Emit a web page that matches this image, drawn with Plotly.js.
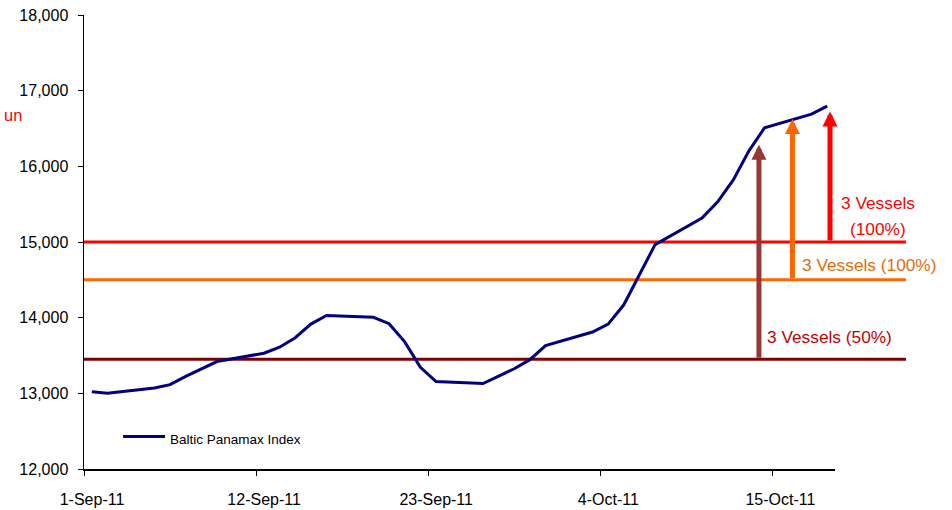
<!DOCTYPE html>
<html>
<head>
<meta charset="utf-8">
<script src="https://cdn.plot.ly/plotly-3.0.1.min.js"></script>
<style>
  html, body { margin: 0; padding: 0; background: #fff; }
  #chart { width: 952px; height: 510px; }
</style>
</head>
<body>
<div id="chart"></div>
<script>
// Baltic Panamax Index, business days 1 Sep – 18 Oct 2011
const dates = [
  '2011-09-01','2011-09-02','2011-09-05','2011-09-06','2011-09-07','2011-09-08','2011-09-09',
  '2011-09-12','2011-09-13','2011-09-14','2011-09-15','2011-09-16',
  '2011-09-19','2011-09-20','2011-09-21','2011-09-22','2011-09-23',
  '2011-09-26','2011-09-27','2011-09-28','2011-09-29','2011-09-30',
  '2011-10-03','2011-10-04','2011-10-05','2011-10-06','2011-10-07',
  '2011-10-10','2011-10-11','2011-10-12','2011-10-13','2011-10-14',
  '2011-10-17','2011-10-18'
];
const panamax = [
  13020, 13000, 13070, 13115, 13225, 13325, 13420,
  13530, 13610, 13735, 13915, 14030,
  14005, 13920, 13680, 13345, 13155,
  13130, 13225, 13325, 13445, 13630,
  13810, 13915, 14170, 14560, 14965,
  15315, 15530, 15820, 16205, 16510,
  16690, 16795
];

// Axis ticks
const tickDates = ['2011-09-01','2011-09-12','2011-09-23','2011-10-04','2011-10-15'];
const tickLabels = ['1-Sep-11','12-Sep-11','23-Sep-11','4-Oct-11','15-Oct-11'];

// Fleet thresholds and the arrows that rise from them
const levelValues = [13450, 14500, 15000];
const levelColors = ['#800000', '#FF6600', '#FF0000'];
const arrowTimes = ['2011-10-14 03:20', '2011-10-16 06:45', '2011-10-18 16:20'];
const arrowTips = [16285, 16625, 16725];
const arrowColors = ['#953735', '#FF6600', '#FF0000'];
// label lines: text, colour
const labelTexts = ['3 Vessels (50%)', '3 Vessels (100%)', '3 Vessels', '(100%)'];
const labelColors = ['#C00000', '#E46C0A', '#FF0000', '#FF0000'];

// each daily value sits in the middle of its day
const xMid = dates.map(d => d + ' 12:00');

const sans = '"Liberation Sans", Arial, sans-serif';

const shapes = levelValues.map((v, i) => ({
  type: 'line', xref: 'paper', yref: 'y',
  x0: 0, x1: 1.0945, y0: v, y1: v,
  line: { color: levelColors[i], width: 3 },
  layer: 'below'
}));
// legend key
shapes.push({
  type: 'line', xref: 'paper', yref: 'paper',
  x0: 0.052, x1: 0.108, y0: 0.0718, y1: 0.0718,
  line: { color: '#000080', width: 3 }
});

const annotations = [];
arrowTimes.forEach((t, i) => {
  annotations.push({
    x: t, y: arrowTips[i], xref: 'x', yref: 'y',
    ax: t, ay: levelValues[i], axref: 'x', ayref: 'y',
    text: '', showarrow: true,
    arrowhead: 2, arrowsize: 0.6, arrowwidth: 5,
    arrowcolor: arrowColors[i], standoff: 0, startstandoff: 0
  });
});
const labelPos = [
  { x: 0.9927, y: 0.2906 },
  { x: 1.0459, y: 0.4497 },
  { x: 1.0573, y: 0.5868 },
  { x: 1.0566, y: 0.5283 }
];
labelTexts.forEach((txt, i) => {
  annotations.push({
    x: labelPos[i].x, y: labelPos[i].y, xref: 'paper', yref: 'paper',
    xanchor: 'center', yanchor: 'middle', align: 'center',
    text: txt, showarrow: false,
    font: { family: sans, size: 17.3, color: labelColors[i] }
  });
});
annotations.push({
  x: -0.1092, y: 0.7795, xref: 'paper', yref: 'paper',
  xanchor: 'left', yanchor: 'middle',
  text: 'un', showarrow: false,
  font: { family: sans, size: 16.5, color: '#FF0000' }
});
annotations.push({
  x: 0.1119, y: 0.0645, xref: 'paper', yref: 'paper',
  xanchor: 'left', yanchor: 'middle',
  text: 'Baltic Panamax Index', showarrow: false,
  font: { family: sans, size: 13.5, color: '#000000' }
});

const trace = {
  type: 'scatter', mode: 'lines',
  name: 'Baltic Panamax Index',
  x: xMid, y: panamax,
  line: { color: '#000080', width: 3 },
  hoverinfo: 'x+y'
};

const layout = {
  width: 952, height: 510,
  margin: { l: 84, r: 117, t: 15, b: 41 },
  paper_bgcolor: '#ffffff', plot_bgcolor: '#ffffff',
  showlegend: false,
  font: { family: sans, size: 16, color: '#000000' },
  xaxis: {
    type: 'date',
    range: ['2011-09-01', '2011-10-19'],
    tickmode: 'array', tickvals: tickDates, ticktext: tickLabels,
    ticks: 'outside', ticklen: 5, tickcolor: '#000', tickwidth: 1,
    ticklabelshift: 8, ticklabelstandoff: 10,
    showline: true, linecolor: '#000', linewidth: 1.5,
    showgrid: false, zeroline: false,
    tickfont: { family: sans, size: 16, color: '#000' }
  },
  yaxis: {
    range: [12000, 18000], dtick: 1000, tick0: 12000,
    tickformat: ',d',
    ticks: 'outside', ticklen: 5, tickcolor: '#000', tickwidth: 1,
    ticklabelstandoff: 6,
    showline: true, linecolor: '#000', linewidth: 1.5,
    showgrid: false, zeroline: false,
    tickfont: { family: sans, size: 16, color: '#000' }
  },
  shapes: shapes,
  annotations: annotations
};

Plotly.newPlot('chart', [trace], layout, { displayModeBar: false, staticPlot: true });
</script>
</body>
</html>
